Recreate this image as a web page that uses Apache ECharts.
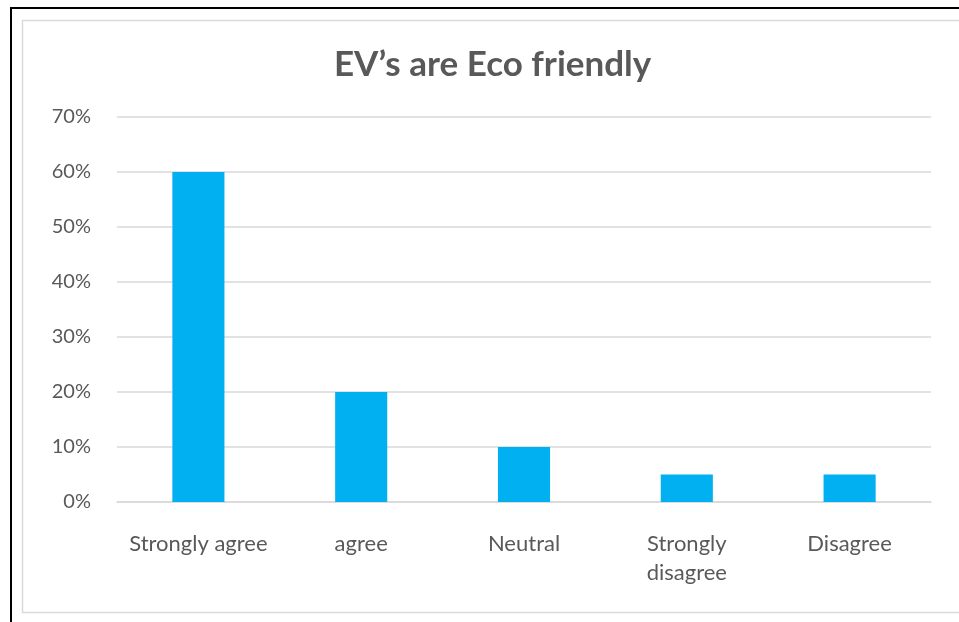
<!DOCTYPE html>
<html>
<head>
<meta charset="utf-8">
<script src="https://cdn.jsdelivr.net/npm/echarts@6/dist/echarts.min.js"></script>
<style>
  html, body { margin: 0; padding: 0; background: #fff; }
  #chart { width: 959px; height: 622px; }
</style>
</head>
<body>
<div id="chart"></div>
<script>
const categories = ["Strongly agree", "agree", "Neutral", "Strongly\ndisagree", "Disagree"];
const shares = [60, 20, 10, 5, 5];
const yTicks = [0, 10, 20, 30, 40, 50, 60, 70];

const FONT = "Lato";
const TEXT = "#595959";

const chart = echarts.init(document.getElementById("chart"));

chart.setOption({
  animation: false,
  textStyle: { fontFamily: FONT },
  title: {
    text: "EV\u2019s are Eco friendly",
    left: 329,
    top: 42,
    textStyle: { fontFamily: FONT, fontSize: 35, fontWeight: "bold", color: TEXT }
  },
  graphic: [
    // outer black frame (top + left only visible)
    { type: "rect", shape: { x: 10, y: 7, width: 2, height: 620 }, style: { fill: "#000" }, silent: true },
    { type: "rect", shape: { x: 10, y: 7, width: 960, height: 2 }, style: { fill: "#000" }, silent: true },
    // chart area border
    { type: "rect", shape: { x: 22.5, y: 20.5, width: 960, height: 592 }, style: { fill: "none", stroke: "#d9d9d9", lineWidth: 1.5 }, silent: true }
  ],
  grid: { left: 117, right: 28, top: 117, bottom: 120, containLabel: false },
  xAxis: {
    type: "category",
    data: categories,
    axisLine: { show: true, lineStyle: { color: "#d9d9d9", width: 1.5 } },
    axisTick: { show: false },
    axisLabel: { color: TEXT, fontSize: 22, margin: 27, lineHeight: 29, interval: 0 }
  },
  yAxis: {
    type: "value",
    min: 0,
    max: 70,
    interval: 10,
    axisLine: { show: false },
    axisTick: { show: false },
    splitLine: { lineStyle: { color: "#d9d9d9", width: 1.5 } },
    axisLabel: {
      color: TEXT,
      fontSize: 20,
      margin: 26,
      formatter: (v) => (yTicks.includes(v) ? v + "%" : "")
    }
  },
  series: [
    {
      type: "bar",
      data: shares,
      barWidth: "32%",
      itemStyle: { color: "#00b0f0" }
    }
  ]
});
</script>
</body>
</html>
